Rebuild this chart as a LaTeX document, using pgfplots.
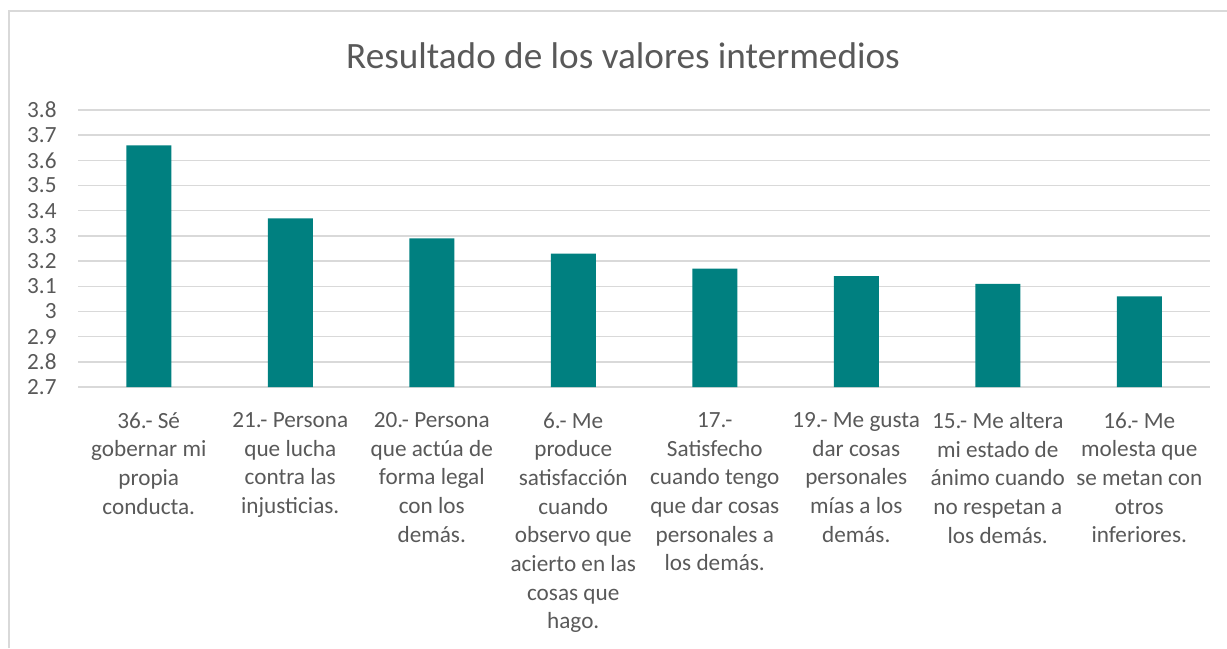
\documentclass[border=0pt]{standalone}
\usepackage{pgfplots}
\pgfplotsset{compat=1.18}
\usepackage{fontspec}
\setmainfont{Carlito}
\definecolor{barc}{HTML}{008080}
\definecolor{gridc}{HTML}{D9D9D9}
\definecolor{txt}{HTML}{595959}
\begin{document}
\begin{tikzpicture}[x=1bp,y=1bp]
\path[use as bounding box] (0,0) rectangle (613.5,324);
\draw[gridc, line width=1bp] (4.25,0) -- (4.25,318.25) -- (613.5,318.25);
\node[txt, font={\fontsize{18.6bp}{22bp}\selectfont}] at (311.5,296) {Resultado de los valores intermedios};
\begin{axis}[
  at={(39bp,130.5bp)}, anchor=south west,
  scale only axis, width=566bp, height=138.5bp,
  xmin=-0.5, xmax=7.5, ymin=2.7, ymax=3.8,
  ytick={2.7,2.8,2.9,3.0,3.1,3.2,3.3,3.4,3.5,3.6,3.7,3.8},
  yticklabels={2.7,2.8,2.9,3,3.1,3.2,3.3,3.4,3.5,3.6,3.7,3.8},
  xtick={0,1,2,3,4,5,6,7},
  xticklabels={
    {36.- Sé\\gobernar mi\\propia\\conducta.},
    {21.- Persona\\que lucha\\contra las\\injusticias.},
    {20.- Persona\\que actúa de\\forma legal\\con los\\demás.},
    {6.- Me\\produce\\satisfacción\\cuando\\observo que\\acierto en las\\cosas que\\hago.},
    {17.-\\Satisfecho\\cuando tengo\\que dar cosas\\personales a\\los demás.},
    {19.- Me gusta\\dar cosas\\personales\\mías a los\\demás.},
    {15.- Me altera\\mi estado de\\ánimo cuando\\no respetan a\\los demás.},
    {16.- Me\\molesta que\\se metan con\\otros\\inferiores.}},
  xticklabel style={align=center, anchor=north, inner sep=0pt, yshift=-12.5bp, text=txt,
    font={\fontsize{11.6bp}{14.35bp}\selectfont}},
  yticklabel style={anchor=east, inner sep=0pt, xshift=-10.5bp, text=txt,
    font={\fontsize{11.6bp}{13bp}\selectfont}},
  axis line style={draw=none},
  major tick length=0pt,
  ymajorgrids, grid style={gridc, line width=0.75bp},
  ybar, bar width=22.5bp,
  clip=false,
]
\addplot[fill=barc, draw=none] coordinates {(0,3.66) (1,3.37) (2,3.29) (3,3.23) (4,3.17) (5,3.14) (6,3.11) (7,3.06)};
\end{axis}
\end{tikzpicture}
\end{document}
